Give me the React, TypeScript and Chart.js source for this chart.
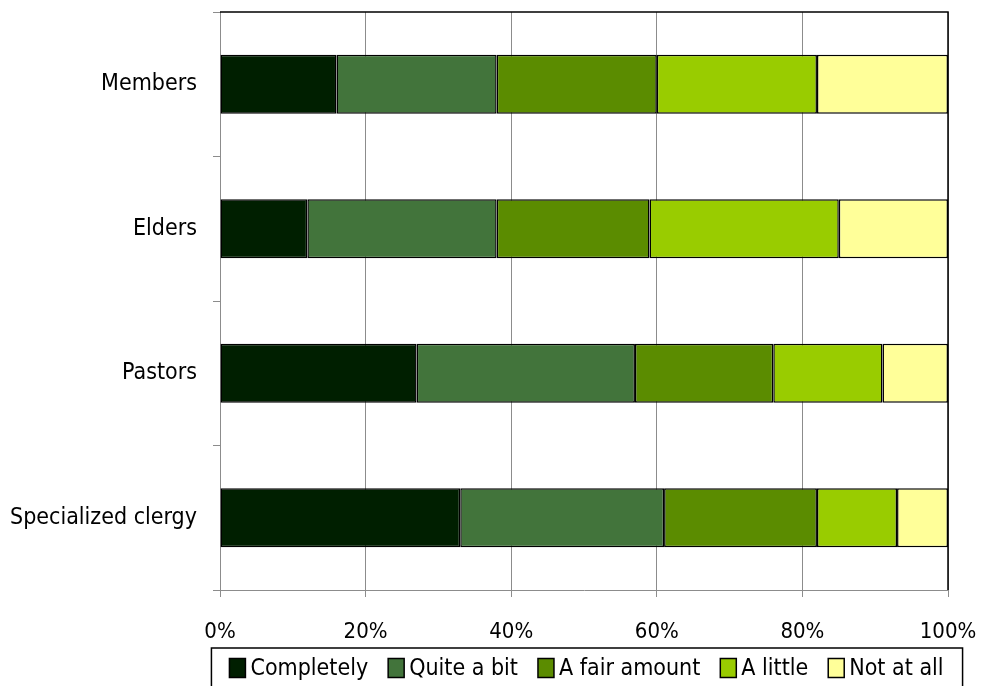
import React, { useEffect, useRef } from "react";
import { Chart, registerables } from "chart.js";

Chart.register(...registerables);

const categories = ["Members", "Elders", "Pastors", "Specialized clergy"];
const seriesNames = ["Completely", "Quite a bit", "A fair amount", "A little", "Not at all"];
const completely = [16, 12, 27, 33];
const quiteABit = [22, 26, 30, 28];
const aFairAmount = [22, 21, 19, 21];
const aLittle = [22, 26, 15, 11];
const notAtAll = [18, 15, 9, 7];
const seriesColors = ["#001f00", "#42743b", "#5b8c00", "#99cc00", "#ffff99"];
const xTicks = [0, 20, 40, 60, 80, 100];

const FONT = '"DejaVu Sans Condensed", "Liberation Sans Narrow", "Noto Sans", sans-serif';

const frameLines = {
  id: "frameLines",
  afterDatasetsDraw(chart: any) {
    const { ctx, chartArea } = chart;
    ctx.save();
    ctx.strokeStyle = "#000";
    ctx.lineWidth = 1.5;
    ctx.beginPath();
    ctx.moveTo(chartArea.left, chartArea.top);
    ctx.lineTo(chartArea.right, chartArea.top);
    ctx.lineTo(chartArea.right, chartArea.bottom);
    ctx.stroke();
    ctx.restore();
  },
};

const legendBox = {
  id: "legendBox",
  afterDraw(chart: any) {
    const { ctx, chartArea } = chart;
    ctx.save();
    ctx.font = "23px " + FONT;
    const items = chart.data.datasets.map((d: any) => ({
      label: d.label,
      color: d.backgroundColor,
      w: ctx.measureText(d.label).width,
    }));
    const boxW = 16, boxH = 19, gapBT = 5, gapItem = 20, padL = 18, padR = 19;
    let total = 0;
    items.forEach((it: any, i: number) => {
      total += boxW + gapBT + it.w + (i < items.length - 1 ? gapItem : 0);
    });
    const cx = (chartArea.left + chartArea.right) / 2 + 3;
    const frameLeft = cx - (total + padL + padR) / 2;
    const top = chart.height - 38;
    ctx.strokeStyle = "#000";
    ctx.lineWidth = 1.5;
    ctx.strokeRect(frameLeft, top, total + padL + padR, 60);
    let x = frameLeft + padL;
    const cy = top + 20;
    ctx.textBaseline = "middle";
    ctx.textAlign = "left";
    items.forEach((it: any) => {
      ctx.fillStyle = it.color;
      ctx.fillRect(x, cy - boxH / 2, boxW, boxH);
      ctx.lineWidth = 1.5;
      ctx.strokeStyle = "#000";
      ctx.strokeRect(x, cy - boxH / 2, boxW, boxH);
      ctx.fillStyle = "#000";
      ctx.fillText(it.label, x + boxW + gapBT, cy + 1);
      x += boxW + gapBT + it.w + gapItem;
    });
    ctx.restore();
  },
};

function zeroPadding(scale: any) {
  scale.paddingTop = 0;
  scale.paddingBottom = 0;
  scale.paddingLeft = 0;
  scale.paddingRight = 0;
}

export default function App() {
  const ref = useRef<HTMLCanvasElement>(null);
  useEffect(() => {
    if (!ref.current) return;
    const values = [completely, quiteABit, aFairAmount, aLittle, notAtAll];
    const chart = new Chart(ref.current, {
      type: "bar",
      data: {
        labels: categories,
        datasets: seriesNames.map((name, i) => ({
          label: name,
          data: values[i],
          backgroundColor: seriesColors[i],
          borderColor: "#000",
          borderWidth: 1.5,
          borderSkipped: false,
          barPercentage: 0.82,
          categoryPercentage: 0.5,
        })),
      },
      options: {
        indexAxis: "y",
        animation: false,
        responsive: false,
        maintainAspectRatio: false,
        layout: { padding: { top: 12, right: 34, bottom: 0, left: 0 } },
        plugins: { legend: { display: false }, tooltip: { enabled: false } },
        scales: {
          x: {
            stacked: true,
            min: 0,
            max: 100,
            afterBuildTicks: (scale: any) => {
              scale.ticks = xTicks.map((v) => ({ value: v }));
            },
            afterFit: (scale: any) => {
              zeroPadding(scale);
              scale.height = 96;
            },
            ticks: {
              callback: (v: any) => v + "%",
              color: "#000",
              font: { family: FONT, size: 22 },
              padding: 22,
              maxRotation: 0,
            },
            grid: { color: "#8c8c8c", lineWidth: 1, tickLength: 7, drawTicks: true },
            border: { color: "#8c8c8c", width: 1 },
          },
          y: {
            stacked: true,
            afterFit: (scale: any) => {
              zeroPadding(scale);
              scale.width = 220;
            },
            ticks: {
              color: "#000",
              font: { family: FONT, size: 23 },
              padding: 16,
            },
            grid: { offset: true, drawOnChartArea: false, color: "#8c8c8c", tickLength: 7 },
            border: { color: "#8c8c8c", width: 1 },
          },
        },
      },
      plugins: [frameLines, legendBox],
    } as any);
    return () => chart.destroy();
  }, []);
  return (
    <div style={{ position: "fixed", left: 0, top: 0, width: 982, height: 686, background: "#fff" }}>
      <canvas ref={ref} width={982} height={686} style={{ display: "block" }} />
    </div>
  );
}
